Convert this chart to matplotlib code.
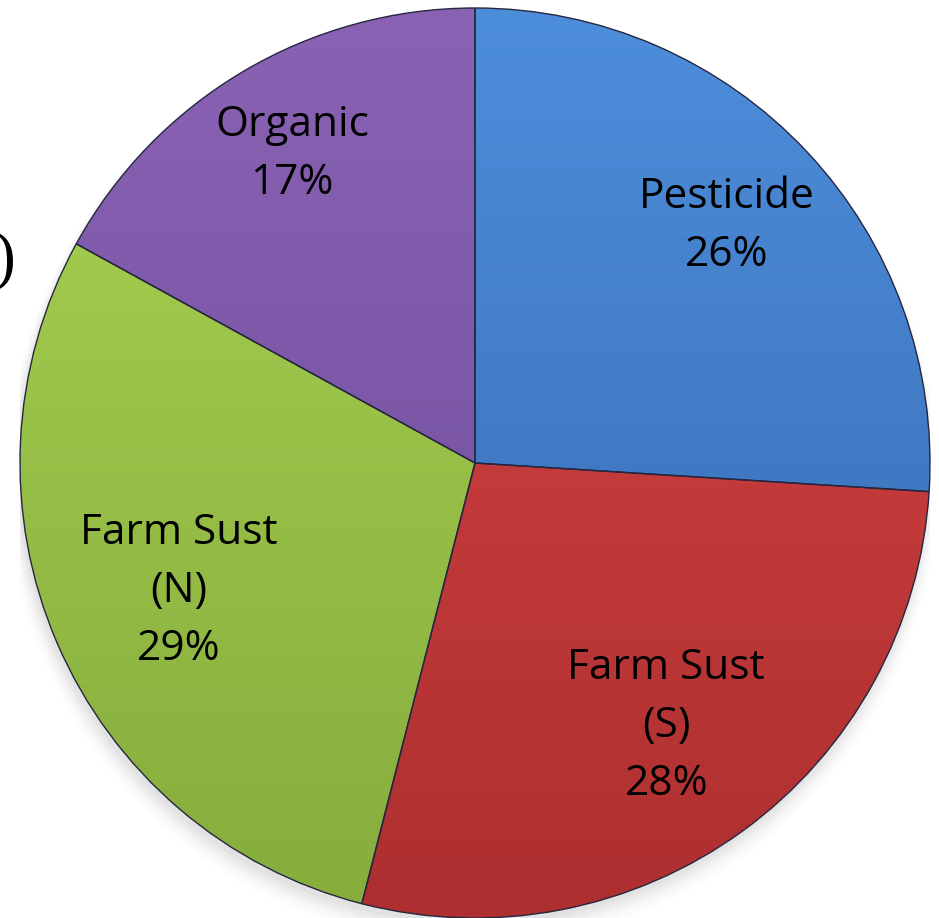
import numpy as np
import matplotlib
matplotlib.use("Agg")
import matplotlib.pyplot as plt
from matplotlib.colors import to_rgb
from matplotlib.patches import Ellipse

labels = ["Pesticide", "Farm Sust\n(S)", "Farm Sust\n(N)", "Organic"]
values = [26, 28, 29, 17]
top_colors = ["#4d8edb", "#db4646", "#a9d352", "#8a62b4"]
bottom_colors = ["#3566ad", "#ad2f2f", "#86ac3c", "#6b4b98"]
label_dist = [0.76, 0.715, 0.71, 0.79]

W, H = 939, 918
fig = plt.figure(figsize=(W / 100, H / 100), dpi=100)
fig.patch.set_facecolor("white")
ax = fig.add_axes([20 / W, 0, 910 / W, 910 / H])
ax.set_xlim(-1, 1)
ax.set_ylim(-1, 1)
ax.set_aspect("equal")
ax.axis("off")

# soft shadow
for i, a in enumerate(np.linspace(0.06, 0.015, 6)):
    ax.add_patch(Ellipse((-0.005, -0.014 - i * 0.004), 2.0 + i * 0.01, 2.0 + i * 0.01,
                         facecolor="gray", edgecolor="none", alpha=a, zorder=0))

wedges, _ = ax.pie(values, startangle=90, counterclock=False, radius=1.0,
                   colors=top_colors,
                   wedgeprops=dict(edgecolor="#ffffff", linewidth=0.6, alpha=1))

yy = np.linspace(1, 0, 256)[:, None]
for w, ct, cb in zip(wedges, top_colors, bottom_colors):
    t = np.array(to_rgb(ct))
    b = np.array(to_rgb(cb))
    grad = (t[None, None, :] * yy[:, :, None] + b[None, None, :] * (1 - yy[:, :, None]))
    grad = np.repeat(grad, 2, axis=1)
    im = ax.imshow(grad, extent=(-1, 1, -1, 1), origin="upper", zorder=1.5,
                   interpolation="bilinear", aspect="auto")
    im.set_clip_path(w)
    w.set_zorder(2)
    w.set_facecolor("none")
    w.set_edgecolor((0.15, 0.15, 0.25, 0.35))
    w.set_linewidth(1.0)

for w, lab, v, d in zip(wedges, labels, values, label_dist):
    ang = np.deg2rad((w.theta1 + w.theta2) / 2)
    ax.text(d * np.cos(ang), d * np.sin(ang), f"{lab}\n{v}%",
            ha="center", va="center", fontsize=30.5, family="Open Sans",
            color="black", linespacing=1.5, zorder=5)

ax.set_xlim(-1, 1)
ax.set_ylim(-1, 1)

fig.text(17 / W, 1 - 262 / H, ")", ha="right", va="center",
         fontsize=44, family="DejaVu Serif", color="black")

fig.savefig("out.png", dpi=100, facecolor="white")
